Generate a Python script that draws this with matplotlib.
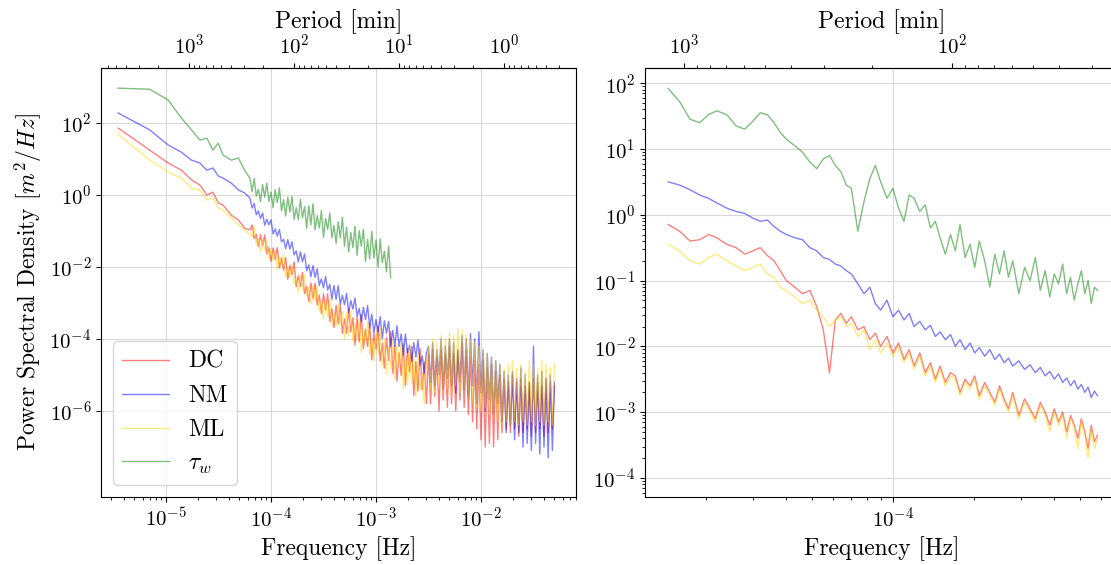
import numpy as np
import matplotlib
matplotlib.use("Agg")
import matplotlib.pyplot as plt
from matplotlib.ticker import NullFormatter

# --- full record spectra: log10 f [Hz] and log10 PSD [m^2/Hz] ---
log_freq_full = [
    # first harmonics of the record length
    -5.456, -5.155, -4.979, -4.854, -4.757, -4.678, -4.611, -4.553, -4.502, -4.456,
    -4.377, -4.310, -4.252, -4.201,
    -4.18, -4.16, -4.14, -4.12, -4.10, -4.08, -4.06, -4.04, -4.02, -4.00,
    -3.98, -3.96, -3.94, -3.92, -3.90, -3.88, -3.86, -3.84, -3.82, -3.80,
    -3.78, -3.76, -3.74, -3.72, -3.70, -3.68, -3.66, -3.64, -3.62, -3.60,
    -3.58, -3.56, -3.54, -3.52, -3.50, -3.48, -3.46, -3.44, -3.42, -3.40,
    -3.38, -3.36, -3.34, -3.32, -3.30, -3.28, -3.26, -3.24, -3.22, -3.20,
    -3.18, -3.16, -3.14, -3.12, -3.10, -3.08, -3.06, -3.04, -3.02, -3.00,
    -2.98, -2.96, -2.94, -2.92, -2.90, -2.88, -2.86, -2.84, -2.82, -2.80,
    -2.78, -2.76, -2.74, -2.72, -2.70, -2.68, -2.66, -2.64, -2.62, -2.60,
    -2.58, -2.56, -2.54, -2.52,
    -2.50, -2.48, -2.46, -2.44, -2.42, -2.40, -2.38, -2.36, -2.34, -2.32,
    -2.30, -2.28, -2.26, -2.24, -2.22, -2.20, -2.18, -2.16, -2.14, -2.12,
    -2.10, -2.08, -2.06, -2.04, -2.02, -2.00, -1.98, -1.96, -1.94, -1.92,
    -1.90, -1.88, -1.86, -1.84, -1.82, -1.80, -1.78, -1.76, -1.74, -1.72,
    -1.70, -1.68, -1.66, -1.64, -1.62, -1.60, -1.58, -1.56, -1.54, -1.52,
    -1.50, -1.48, -1.46, -1.44, -1.42, -1.40, -1.38, -1.36, -1.34, -1.32, -1.30,
]

psd_dc = [
    1.86, 1.25, 0.89, 0.69, 0.42, 0.28, 0.00, 0.08, -0.22, -0.28, -0.56, -0.69, -0.92, -0.97,
    -0.83, -1.21, -1.09, -1.43, -1.10, -1.40, -1.11, -1.64, -1.46, -1.84,
    -1.47, -1.79, -1.46, -2.03, -1.75, -2.09, -1.74, -2.34, -1.95, -2.21,
    -1.86, -2.55, -2.24, -2.54, -2.15, -2.74, -2.54, -2.96, -2.44, -2.87,
    -2.45, -3.06, -2.78, -3.29, -2.74, -3.19, -2.74, -3.51, -3.15, -3.68,
    -3.06, -3.57, -3.06, -3.84, -3.44, -3.84, -3.16, -3.80, -3.41, -4.17,
    -3.39, -4.08, -3.31, -4.27, -3.74, -4.21, -3.56, -4.58, -3.85, -4.28,
    -3.64, -4.61, -4.12, -4.81, -3.96, -4.60, -3.79, -4.95, -4.18, -5.17,
    -4.38, -5.01, -4.13, -5.30, -4.26, -4.92, -4.21, -5.57, -4.63, -5.45,
    -4.27, -5.41, -4.64, -5.79,
    -4.4, -5.8, -4.3, -5.6, -4.5, -6.0, -4.3, -5.7, -4.4, -5.9,
    -4.2, -5.8, -4.4, -6.0, -4.3, -5.7, -4.1, -5.9, -4.3, -6.1,
    -4.5, -6.3, -4.6, -6.5, -4.7, -6.8, -4.6, -7.0, -4.8, -6.9,
    -4.7, -7.0, -4.9, -6.8, -5.0, -6.6, -5.1, -6.5, -5.2, -6.6,
    -5.0, -6.5, -5.2, -6.7, -5.1, -6.6, -5.3, -6.5, -5.2, -6.7,
    -5.1, -6.6, -5.2, -6.5, -5.3, -6.7, -5.1, -6.6, -5.2, -6.5, -5.3,
]

psd_nm = [
    2.28, 1.81, 1.39, 1.19, 0.97, 0.89, 0.69, 0.75, 0.53, 0.47, 0.33, 0.14, 0.06, -0.08,
    -0.36, -0.23, -0.55, -0.44, -0.65, -0.50, -0.84, -0.67, -0.83, -0.69,
    -1.08, -0.94, -1.14, -0.96, -1.30, -1.23, -1.49, -1.24, -1.50, -1.30,
    -1.66, -1.55, -1.86, -1.58, -1.85, -1.64, -2.10, -1.94, -2.27, -1.96,
    -2.29, -2.05, -2.51, -2.33, -2.58, -2.26, -2.64, -2.48, -2.90, -2.51,
    -2.90, -2.52, -3.04, -2.79, -3.05, -2.73, -3.27, -2.93, -3.17, -2.86,
    -3.37, -3.15, -3.52, -3.12, -3.46, -3.07, -3.68, -3.31, -3.83, -3.46,
    -3.80, -3.38, -3.99, -3.49, -3.84, -3.51, -4.21, -3.76, -4.20, -3.63,
    -4.21, -3.86, -4.45, -3.86, -4.39, -4.17, -4.63, -4.10, -4.50, -4.03,
    -4.73, -4.47, -4.95, -4.39,
    -4.2, -5.2, -4.1, -5.3, -4.3, -5.0, -4.0, -5.4, -4.2, -5.1,
    -4.0, -5.3, -4.1, -5.5, -4.3, -5.2, -3.9, -5.4, -4.0, -5.6,
    -3.85, -5.3, -4.0, -5.8, -3.8, -5.5, -4.3, -6.0, -4.4, -5.7,
    -4.5, -6.1, -4.6, -5.8, -4.7, -6.3, -4.9, -6.6, -5.0, -6.4,
    -4.9, -6.8, -5.1, -6.6, -4.8, -7.0, -5.0, -6.9, -5.2, -7.1,
    -4.2, -6.9, -5.0, -7.2, -4.9, -7.0, -5.1, -7.3, -5.0, -7.1, -5.2,
]

psd_ml = [
    1.69, 0.97, 0.64, 0.47, 0.19, 0.14, -0.14, -0.08, -0.36, -0.42, -0.64, -0.83, -0.97, -1.08,
    -1.16, -0.89, -1.37, -1.22, -1.58, -1.24, -1.54, -1.24, -1.76, -1.51,
    -1.83, -1.52, -2.08, -1.72, -1.95, -1.64, -2.29, -2.01, -2.29, -1.93,
    -2.47, -2.30, -2.70, -2.22, -2.62, -2.23, -2.80, -2.54, -3.03, -2.51,
    -2.94, -2.52, -3.24, -2.92, -3.45, -2.89, -3.38, -2.92, -3.64, -3.28,
    -3.65, -3.03, -3.62, -3.27, -3.98, -3.26, -3.90, -3.19, -4.08, -3.60,
    -4.03, -3.43, -4.38, -3.71, -4.11, -3.51, -4.42, -3.97, -4.62, -3.82,
    -4.43, -3.67, -4.75, -4.04, -4.97, -4.23, -4.83, -4.00, -5.11, -4.13,
    -4.75, -4.09, -5.37, -4.48, -5.27, -4.15, -5.23, -4.50, -5.60, -4.43,
    -5.40, -4.94, -5.80, -4.73,
    -4.2, -5.4, -4.0, -5.5, -4.1, -5.3, -3.9, -5.5, -4.0, -5.4,
    -3.8, -5.6, -3.9, -5.3, -3.7, -5.5, -3.75, -5.4, -3.9, -5.6,
    -4.0, -5.8, -4.1, -5.9, -4.2, -6.0, -4.3, -5.9, -4.4, -6.1,
    -4.5, -6.2, -4.6, -6.3, -4.7, -6.4, -4.8, -6.3, -4.7, -6.4,
    -4.6, -6.3, -4.8, -6.4, -4.7, -6.3, -4.9, -6.4, -4.6, -6.3,
    -4.7, -6.4, -4.8, -6.3, -4.6, -6.4, -4.7, -6.3, -4.8, -6.4, -4.7,
]

# wind stress record stops near 1.4e-3 Hz
psd_tau = [
    2.97, 2.94, 2.64, 2.14, 1.81, 1.53, 1.58, 1.25, 1.44, 1.11, 0.97, 1.03, 0.69, 0.47,
    0.10, 0.46, -0.03, 0.16, -0.18, 0.29, -0.06, 0.33, -0.18, 0.08,
    -0.35, 0.15, -0.21, 0.20, -0.44, -0.13, -0.58, -0.06, -0.47, -0.04,
    -0.68, -0.35, -0.68, -0.12, -0.63, -0.32, -0.92, -0.30, -0.83, -0.24,
    -0.97, -0.57, -0.92, -0.43, -1.18, -0.65, -0.96, -0.50, -1.19, -0.85,
    -1.34, -0.74, -1.19, -0.62, -1.42, -0.89, -1.58, -1.04, -1.46, -0.87,
    -1.68, -0.99, -1.42, -0.95, -1.85, -1.23, -1.78, -1.01, -1.75, -1.25,
    -2.00, -1.22, -1.88, -1.56, -2.13, -1.42, -2.30,
]

# --- low frequency band: f [Hz] and log10 PSD ---
freq_band = [
    1.45e-5, 1.6e-5, 1.75e-5, 1.9e-5, 2.05e-5, 2.2e-5, 2.4e-5, 2.6e-5, 2.8e-5, 3.0e-5,
    3.2e-5, 3.4e-5, 3.6e-5, 3.8e-5, 4.0e-5, 4.3e-5, 4.6e-5, 4.9e-5, 5.2e-5, 5.5e-5,
    5.8e-5, 6.1e-5, 6.4e-5, 6.7e-5, 7.0e-5, 7.4e-5, 7.8e-5, 8.2e-5, 8.6e-5, 9.0e-5,
    9.5e-5, 1.0e-4, 1.05e-4, 1.1e-4, 1.15e-4, 1.2e-4, 1.26e-4, 1.32e-4, 1.38e-4, 1.44e-4,
    1.5e-4, 1.57e-4, 1.64e-4, 1.71e-4, 1.78e-4, 1.86e-4, 1.94e-4, 2.02e-4, 2.1e-4, 2.2e-4,
    2.3e-4, 2.4e-4, 2.5e-4, 2.6e-4, 2.7e-4, 2.8e-4, 2.95e-4, 3.1e-4, 3.25e-4, 3.4e-4,
    3.55e-4, 3.7e-4, 3.85e-4, 4.0e-4, 4.15e-4, 4.3e-4, 4.45e-4, 4.6e-4, 4.75e-4, 4.9e-4,
    5.05e-4, 5.2e-4, 5.35e-4, 5.5e-4, 5.65e-4, 5.8e-4,
]

band_dc = [
    -0.15, -0.25, -0.40, -0.38, -0.30, -0.35, -0.45, -0.50, -0.60, -0.55,
    -0.50, -0.62, -0.70, -0.85, -1.00, -1.10, -1.20, -1.15, -1.40, -1.75,
    -2.40, -1.60, -1.50, -1.65, -1.55, -1.75, -1.70, -1.90, -1.80, -2.00,
    -1.85, -2.10, -1.95, -2.20, -2.05, -2.30, -2.10, -2.40, -2.25, -2.50,
    -2.30, -2.55, -2.40, -2.45, -2.70, -2.50, -2.60, -2.45, -2.75, -2.55,
    -2.70, -2.85, -2.60, -2.80, -2.95, -2.70, -3.05, -2.80, -2.95, -3.10,
    -2.85, -3.00, -3.20, -2.95, -3.15, -3.00, -3.30, -3.05, -3.20, -3.40,
    -3.10, -3.30, -3.55, -3.20, -3.45, -3.35,
]

band_nm = [
    0.50, 0.45, 0.38, 0.30, 0.25, 0.18, 0.10, 0.05, 0.02, -0.05,
    -0.10, -0.08, -0.18, -0.25, -0.30, -0.35, -0.38, -0.50, -0.55, -0.65,
    -0.68, -0.75, -0.78, -0.85, -0.90, -1.05, -1.20, -1.10, -1.35, -1.45,
    -1.30, -1.55, -1.45, -1.60, -1.50, -1.70, -1.62, -1.75, -1.68, -1.85,
    -1.78, -1.90, -1.82, -2.00, -1.90, -2.05, -1.95, -2.10, -2.02, -2.15,
    -2.05, -2.20, -2.12, -2.25, -2.18, -2.30, -2.22, -2.35, -2.28, -2.40,
    -2.32, -2.45, -2.38, -2.50, -2.42, -2.55, -2.48, -2.60, -2.52, -2.65,
    -2.58, -2.70, -2.62, -2.78, -2.68, -2.75,
]

band_ml = [
    -0.45, -0.55, -0.70, -0.75, -0.65, -0.60, -0.70, -0.78, -0.85, -0.80,
    -0.75, -0.90, -0.95, -1.10, -1.15, -1.25, -1.35, -1.30, -1.45, -1.55,
    -1.70, -1.60, -1.55, -1.70, -1.65, -1.85, -1.75, -2.05, -1.90, -2.10,
    -1.95, -2.15, -2.00, -2.25, -2.10, -2.35, -2.15, -2.45, -2.30, -2.55,
    -2.35, -2.60, -2.45, -2.50, -2.75, -2.55, -2.65, -2.50, -2.80, -2.60,
    -2.75, -2.90, -2.65, -2.85, -3.00, -2.75, -3.10, -2.85, -3.00, -3.15,
    -2.90, -3.05, -3.30, -3.00, -3.20, -3.05, -3.40, -3.10, -3.25, -3.55,
    -3.15, -3.35, -3.70, -3.25, -3.55, -3.40,
]

band_tau = [
    1.92, 1.72, 1.45, 1.40, 1.52, 1.58, 1.52, 1.35, 1.30, 1.42,
    1.55, 1.52, 1.40, 1.25, 1.15, 1.05, 0.95, 0.80, 0.70, 0.85,
    0.90, 0.75, 0.65, 0.45, 0.40, -0.25, 0.20, 0.55, 0.75, 0.50,
    0.25, 0.40, 0.10, -0.10, 0.30, 0.25, 0.05, 0.15, -0.20, -0.10,
    -0.35, -0.60, -0.30, -0.55, -0.15, -0.65, -0.45, -0.80, -0.40, -0.70,
    -1.10, -0.60, -0.90, -0.55, -0.95, -0.70, -1.20, -0.80, -1.00, -0.65,
    -1.15, -0.85, -1.25, -0.90, -1.05, -0.75, -1.20, -0.95, -1.30, -1.05,
    -0.85, -1.20, -1.00, -1.35, -1.10, -1.15,
]

labels = ["DC", "NM", "ML", r"$\tau_w$"]
colors = ["red", "blue", "gold", "green"]

plt.rcParams["font.family"] = "serif"
plt.rcParams["font.serif"] = ["cmr10"]
plt.rcParams["mathtext.fontset"] = "cm"
plt.rcParams["axes.formatter.use_mathtext"] = True
plt.rcParams["xtick.labelsize"] = 15
plt.rcParams["ytick.labelsize"] = 15


def hz_to_min(f):
    # period in minutes from frequency in Hz (same form works backwards)
    f = np.array(f, dtype=float)
    f[np.isclose(f, 0)] = np.inf
    return 1.0 / (60.0 * f)


fig = plt.figure(figsize=(11.11, 5.65), dpi=100)
ax1 = fig.add_axes([101 / 1111, 68 / 565, 475 / 1111, 429 / 565])
ax2 = fig.add_axes([645 / 1111, 68 / 565, 473 / 1111, 429 / 565])

f_full = 10 ** np.array(log_freq_full)
for lab, col, vals in zip(labels, colors, [psd_dc, psd_nm, psd_ml, psd_tau]):
    ax1.plot(f_full[:len(vals)], 10 ** np.array(vals), color=col, alpha=0.5, lw=1.0, label=lab)

f_band = np.array(freq_band)
for lab, col, vals in zip(labels, colors, [band_dc, band_nm, band_ml, band_tau]):
    ax2.plot(f_band, 10 ** np.array(vals), color=col, alpha=0.5, lw=1.0, label=lab)

for ax, period_ticks in ((ax1, [1e3, 1e2, 1e1, 1e0]), (ax2, [1e3, 1e2])):
    ax.set_xscale("log")
    ax.set_yscale("log")
    ax.grid(True, which="major", color="0.85", lw=0.8)
    ax.set_xlabel("Frequency [Hz]", fontsize=17)
    ax.xaxis.set_minor_formatter(NullFormatter())
    top = ax.secondary_xaxis("top", functions=(hz_to_min, hz_to_min))
    top.set_xticks(period_ticks)
    top.xaxis.set_minor_formatter(NullFormatter())
    top.set_xlabel("Period [min]", fontsize=17)

ax1.set_xlim(10 ** -5.619, 10 ** -1.095)
ax1.set_ylim(10 ** -8.39, 10 ** 3.53)
ax1.set_yticks([1e-6, 1e-4, 1e-2, 1e0, 1e2])
ax1.set_ylabel("Power Spectral Density [$m^2/Hz$]", fontsize=17)
ax1.legend(loc="lower left", fontsize=17)

ax2.set_xlim(10 ** -4.925, 10 ** -3.16)
ax2.set_ylim(10 ** -4.29, 10 ** 2.23)

fig.savefig("out.png", dpi=100)
